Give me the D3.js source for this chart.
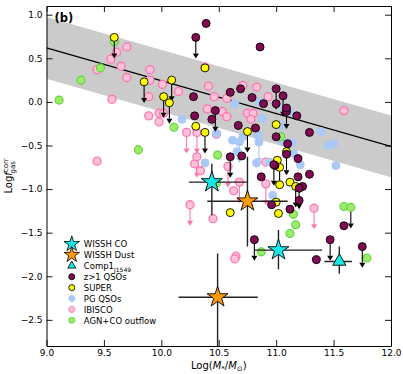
<!DOCTYPE html>
<html>
<head>
<meta charset="utf-8">
<script src="https://cdn.jsdelivr.net/npm/d3@7"></script>
<style>
  body { margin: 0; background: #fff; }
  svg text { font-family: "DejaVu Sans", sans-serif; fill: #000; }
</style>
</head>
<body>
<svg width="403" height="374"></svg>
<script>
// --- data ---
var xTicks = [9.0, 9.5, 10.0, 10.5, 11.0, 11.5, 12.0];
var yTicks = [1.0, 0.5, 0.0, -0.5, -1.0, -1.5, -2.0, -2.5];

// best-fit relation and scatter band
var fitLine = [[9.0, 0.62], [12.0, -0.51]];
var fitScatter = 0.355;

// IBISCO
var ibisco = [[9.44,0.37],[9.56,0.49],[9.61,0.57],[9.70,0.63],[9.65,0.41],[9.70,0.28],[9.57,0.03],
  [9.90,0.37],[9.90,0.25],[9.89,0.06],[9.89,-0.16],[10.01,0.20],[9.98,-0.13],[10.02,-0.13],[9.98,-0.23],
  [10.15,0.12],[9.44,-0.68],[10.29,-0.71],[10.34,-0.79],[10.41,0.18],[10.46,0.06],[10.40,-0.08],[10.53,-0.11],
  [10.57,-0.17],[10.71,0.19],[10.83,0.17],[10.93,0.06],[10.75,-0.13],[10.80,-0.13],[10.78,-0.20],
  [10.57,0.04],[11.59,-0.10],[10.48,-0.37],[10.63,-1.02],[10.45,-1.34],[10.65,-1.77],[10.64,-1.80],
  [10.91,-0.69],[10.38,0.40]];
var ibiscoUL = [[10.22,-0.35],[10.31,-0.35],[10.31,-0.63],[10.58,-0.74],[10.68,-0.92],[10.91,-0.94],
  [10.25,-1.18],[11.33,-1.22]];

// PG QSOs
var pgQso = [[10.18,-0.20],[10.64,-0.02],[10.86,0.00],[10.88,-0.19],[11.07,-0.08],[11.12,-0.11],
  [11.39,-0.34],[11.45,-0.50],[11.50,-0.48],[11.52,-0.73],[10.48,-0.36],[10.62,-0.44],
  [10.71,-0.40],[10.84,-0.38],[10.66,-0.57],[10.38,-0.70],[10.83,-0.70],[10.94,-0.69],
  [11.05,-0.44],[11.14,-0.47],[11.15,-0.59],[11.21,-0.72],[10.97,-1.07]];
var pgQsoUL = [[10.68,-0.46],[10.85,-0.46],[11.05,-0.27]];

// AGN + CO outflow
var outflow = [[9.11,0.02],[9.30,0.25],[9.47,0.39],[9.59,0.69],[10.11,-0.29],[9.80,-0.55],[10.49,-0.61],
  [11.04,-0.40],[10.48,-0.93],[11.59,-1.20],[11.17,-1.41],[11.12,-1.51],[11.15,-1.29],[10.87,-1.72],
  [11.79,-1.79]];
var outflowUL = [[11.65,-1.21]];

// SUPER
var superS = [[10.38,0.39],[10.30,-0.28],[11.00,-0.26],[11.01,-0.67],[11.09,-0.57],[11.12,-0.92],
  [11.03,-0.95],[10.60,-1.27],[11.00,-1.15],[11.02,-1.28]];
var superUL = [[9.59,0.74],[9.85,0.23],[10.09,0.25],[10.02,0.06],[10.07,-0.01],[10.38,-0.35],
  [10.75,-0.34],[11.03,-0.75],[11.17,-0.97]];

// z>1 QSOs
var hizQso = [[10.39,0.90],[10.86,0.63],[10.28,0.06],[10.29,-0.16],[10.60,0.11],[10.69,0.15],[10.79,0.05],
  [10.89,-0.02],[11.00,-0.02],[11.09,-0.11],[11.18,-0.16],[11.29,-0.35],[10.44,-0.20],[10.67,-0.27],
  [10.82,-0.30],[11.00,-0.40],[11.10,-0.48],[11.19,-0.65],[11.29,-0.83],[10.70,-0.62],[10.99,-0.73],
  [10.87,-0.86],[11.19,-0.86],[11.23,-0.97],[10.96,-1.18],[11.35,-1.81],[11.59,-1.42],[11.12,-1.23],
  [11.20,-1.13]];
var hizQsoUL = [[10.30,0.74],[10.47,-0.10],[11.00,0.15],[11.06,0.07],[11.09,-0.07],[11.09,-0.60],
  [10.60,-0.63],[10.98,-0.72],[11.20,-0.99],[10.81,-1.58],[11.47,-1.58],[11.75,-1.66]];
var ulLength = 0.23;

// WISSH stars and Comp1 triangle: [x, y, xlo, xhi, ylo, yhi]
var wisshCO = [[10.44,-0.92,10.24,10.75,-1.30,-0.71],[11.02,-1.70,10.81,11.40,-1.92,-1.47]];
var wisshDust = [[10.75,-1.14,10.40,11.10,-1.66,-0.63],[10.49,-2.24,10.15,10.84,-2.85,-1.74]];
var comp1 = [[11.55,-1.83,11.42,11.66,-1.97,-1.66]];

var legendLabels = ["WISSH CO", "WISSH Dust", "Comp1", "z>1 QSOs", "SUPER", "PG QSOs", "IBISCO", "AGN+CO outflow"];

// --- layout ---
var margin = {top: 6, right: 12, bottom: 28, left: 46.5};
var W = 403, H = 374;
var width = W - margin.left - margin.right,
    height = H - margin.top - margin.bottom;

var svg = d3.select("svg");
var g = svg.append("g").attr("transform", "translate(" + margin.left + "," + margin.top + ")");

var x = d3.scaleLinear().domain([9.0, 12.0]).range([0, width]);
var y = d3.scaleLinear().domain([-2.8, 1.1]).range([height, 0]);

var clip = svg.append("defs").append("clipPath").attr("id", "clip")
  .append("rect").attr("width", width).attr("height", height);
var plot = g.append("g").attr("clip-path", "url(#clip)");

// scatter band + fit line
var bandArea = d3.area()
  .x(function(d) { return x(d[0]); })
  .y0(function(d) { return y(d[1] - fitScatter); })
  .y1(function(d) { return y(d[1] + fitScatter); });
plot.append("path").datum(fitLine).attr("d", bandArea).attr("fill", "#cbcbcb");
plot.append("path").datum(fitLine)
  .attr("d", d3.line().x(function(d) { return x(d[0]); }).y(function(d) { return y(d[1]); }))
  .attr("stroke", "#000").attr("stroke-width", 1.3).attr("fill", "none");

var styles = {
  ibisco: {fill: "#ffc2d8", stroke: "#ff74b0", sw: 1.3, arrow: "#ff74b0"},
  pg: {fill: "#a9c9f6", stroke: "#a9c9f6", sw: 1, arrow: "#a9c9f6"},
  outflow: {fill: "#9cec6a", stroke: "#5cd43a", sw: 1.1, arrow: "#000"},
  sup: {fill: "#ffff00", stroke: "#000", sw: 0.9, arrow: "#000"},
  hiz: {fill: "#820a55", stroke: "#000", sw: 0.9, arrow: "#000"}
};

function drawArrows(data, st) {
  var a = plot.append("g");
  data.forEach(function(d) {
    var x0 = x(d[0]), y0 = y(d[1]), y1 = y(d[1] - ulLength);
    a.append("line").attr("x1", x0).attr("x2", x0).attr("y1", y0).attr("y2", y1 - 4)
      .attr("stroke", st.arrow).attr("stroke-width", 1.1);
    a.append("path")
      .attr("d", "M" + (x0 - 3) + "," + (y1 - 4) + "L" + (x0 + 3) + "," + (y1 - 4) + "L" + x0 + "," + (y1 + 1) + "Z")
      .attr("fill", st.arrow);
  });
}
function drawPoints(data, st) {
  plot.append("g").selectAll("circle").data(data).join("circle")
    .attr("cx", function(d) { return x(d[0]); })
    .attr("cy", function(d) { return y(d[1]); })
    .attr("r", 4)
    .attr("fill", st.fill).attr("stroke", st.stroke).attr("stroke-width", st.sw);
}

drawArrows(ibiscoUL, styles.ibisco);
drawPoints(ibisco.concat(ibiscoUL), styles.ibisco);
drawArrows(pgQsoUL, styles.pg);
drawPoints(pgQso.concat(pgQsoUL), styles.pg);
drawArrows(outflowUL, styles.outflow);
drawPoints(outflow.concat(outflowUL), styles.outflow);
drawArrows(superUL, styles.sup);
drawPoints(superS.concat(superUL), styles.sup);
drawArrows(hizQsoUL, styles.hiz);
drawPoints(hizQso.concat(hizQsoUL), styles.hiz);

// error bars and big symbols
function drawErr(data) {
  var e = plot.append("g");
  data.forEach(function(d) {
    e.append("line").attr("x1", x(d[2])).attr("x2", x(d[3])).attr("y1", y(d[1])).attr("y2", y(d[1]))
      .attr("stroke", "#222").attr("stroke-width", 1.4);
    e.append("line").attr("x1", x(d[0])).attr("x2", x(d[0])).attr("y1", y(d[4])).attr("y2", y(d[5]))
      .attr("stroke", "#222").attr("stroke-width", 1.4);
  });
}
var bigStar = d3.symbol().type(d3.symbolStar).size(135);
var bigTri = d3.symbol().type(d3.symbolTriangle).size(75);
drawErr(wisshCO); drawErr(wisshDust); drawErr(comp1);
function drawSym(data, sym, fill) {
  plot.append("g").selectAll("path").data(data).join("path")
    .attr("transform", function(d) { return "translate(" + x(d[0]) + "," + y(d[1]) + ")"; })
    .attr("d", sym).attr("fill", fill).attr("stroke", "#000").attr("stroke-width", 0.9);
}
drawSym(wisshDust, bigStar, "#ff9a0a");
drawSym(wisshCO, bigStar, "#19e6e6");
drawSym(comp1, bigTri, "#19e6e6");

// axes (inward ticks on all sides)
function styleAxis(sel) {
  sel.select(".domain").attr("stroke", "#000").attr("stroke-width", 1);
  sel.selectAll(".tick line").attr("stroke", "#000").attr("stroke-width", 0.9);
  sel.selectAll(".tick text").style("font-size", "9px");
}
var fmt = function(d) { return d3.format(".1f")(d).replace("-", "\u2212"); };
g.append("g").attr("transform", "translate(0," + height + ")")
  .call(d3.axisBottom(x).tickValues(xTicks).tickFormat(fmt).tickSizeInner(-6).tickSizeOuter(0).tickPadding(4))
  .call(styleAxis);
g.append("g")
  .call(d3.axisTop(x).tickValues(xTicks).tickFormat("").tickSizeInner(-6).tickSizeOuter(0))
  .call(styleAxis);
g.append("g")
  .call(d3.axisLeft(y).tickValues(yTicks).tickFormat(fmt).tickSizeInner(-6).tickSizeOuter(0).tickPadding(4))
  .call(styleAxis);
g.append("g").attr("transform", "translate(" + width + ",0)")
  .call(d3.axisRight(y).tickValues(yTicks).tickFormat("").tickSizeInner(-6).tickSizeOuter(0))
  .call(styleAxis);

// panel label
g.append("text").attr("x", 8).attr("y", 16).style("font-size", "11.5px").style("font-weight", "bold").text("(b)");

// axis titles
var xl = svg.append("text").attr("x", margin.left + width / 2).attr("y", 369)
  .attr("text-anchor", "middle").style("font-size", "10px");
xl.append("tspan").text("Log(");
xl.append("tspan").style("font-style", "italic").text("M");
xl.append("tspan").attr("dy", 2).style("font-size", "7px").text("*");
xl.append("tspan").attr("dy", -2).text("/");
xl.append("tspan").style("font-style", "italic").text("M");
xl.append("tspan").attr("dy", 2).style("font-size", "7px").text("\u2299");
xl.append("tspan").attr("dy", -2).text(")");

var yl = svg.append("text").attr("transform", "translate(12," + (margin.top + height / 2) + ") rotate(-90)")
  .attr("text-anchor", "middle").style("font-size", "10px");
yl.append("tspan").text("Log");
yl.append("tspan").style("font-style", "italic").text("f");
yl.append("tspan").attr("dy", -4).style("font-size", "7px").text("corr");
yl.append("tspan").attr("dx", -15).attr("dy", 7).style("font-size", "7px").text("gas");

// legend
var lg = g.append("g").attr("transform", "translate(" + (x(9.22)) + "," + y(-1.63) + ")");
var legendMarks = [
  {type: "star", fill: "#19e6e6", size: 75},
  {type: "star", fill: "#ff9a0a", size: 75},
  {type: "tri", fill: "#19e6e6", size: 28},
  {type: "circ", fill: styles.hiz.fill, stroke: "#000"},
  {type: "circ", fill: styles.sup.fill, stroke: "#000"},
  {type: "circ", fill: styles.pg.fill, stroke: styles.pg.stroke},
  {type: "circ", fill: styles.ibisco.fill, stroke: styles.ibisco.stroke},
  {type: "circ", fill: styles.outflow.fill, stroke: styles.outflow.stroke}
];
var rowH = 10.9;
legendLabels.forEach(function(lab, i) {
  var m = legendMarks[i], row = lg.append("g").attr("transform", "translate(0," + (i * rowH) + ")");
  if (m.type === "circ") {
    row.append("circle").attr("r", 3).attr("fill", m.fill).attr("stroke", m.stroke).attr("stroke-width", 0.9);
  } else {
    row.append("path").attr("d", d3.symbol().type(m.type === "star" ? d3.symbolStar : d3.symbolTriangle).size(m.size))
      .attr("fill", m.fill).attr("stroke", "#000").attr("stroke-width", 0.8);
  }
  var t = row.append("text").attr("x", 12).attr("y", 3.3).style("font-size", "8.5px").text(lab);
  if (lab === "Comp1") t.append("tspan").attr("dy", 2.5).style("font-size", "6px").text("J1549");
});
</script>
</body>
</html>
